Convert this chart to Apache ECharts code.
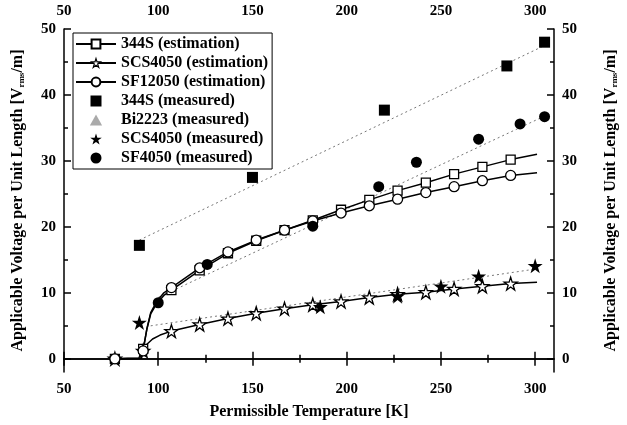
<!DOCTYPE html>
<html><head><meta charset="utf-8">
<script src="https://cdn.jsdelivr.net/npm/echarts@6/dist/echarts.min.js"></script>
<style>html,body{margin:0;padding:0;background:#fff}#c{width:627px;height:425px}</style>
</head><body><div id="c"></div>
<script>
// ---- tick values ----
const xTicks = [50, 100, 150, 200, 250, 300];
const xMinorTicks = [75, 125, 175, 225, 275];
const yTicks = [0, 10, 20, 30, 40, 50];
const yMinorTicks = [5, 15, 25, 35, 45];

// ---- estimation curves (marker points) ----
const estT = [77, 92, 107, 122, 137, 152, 167, 182, 197, 212, 227, 242, 257, 272, 287];
const est344S = [0, 1.5, 10.4, 13.4, 16.0, 17.9, 19.5, 21.0, 22.6, 24.1, 25.5, 26.7, 28.0, 29.1, 30.2];
const estSCS4050 = [0, 1.2, 4.2, 5.2, 6.1, 6.9, 7.6, 8.2, 8.7, 9.3, 9.8, 10.1, 10.6, 11.0, 11.4];
const estSF12050 = [0, 1.2, 10.8, 13.8, 16.2, 18.0, 19.5, 20.9, 22.1, 23.2, 24.2, 25.2, 26.1, 27.0, 27.8];

// ---- estimation curves (line-only points, no marker) ----
const curveT344S = [91, 94, 96, 99, 103, 301];
const curve344S = [0.1, 4.5, 6.8, 8.3, 9.6, 31.0];
const curveTSCS4050 = [91, 94, 97, 101, 301];
const curveSCS4050 = [0.1, 2.2, 3.0, 3.6, 11.6];
const curveTSF12050 = [91, 94, 96, 99, 103, 301];
const curveSF12050 = [0.1, 4.6, 7.0, 8.6, 10.0, 28.2];

// ---- measured ----
const meas344S_T = [90, 150, 220, 285, 305];
const meas344S_V = [17.2, 27.5, 37.7, 44.4, 48.0];
const measBi2223_T = [];
const measBi2223_V = [];
const measSCS4050_T = [90, 186, 227, 250, 270, 300];
const measSCS4050_V = [5.5, 7.9, 9.5, 11.0, 12.5, 14.1];
const measSF4050_T = [100, 126, 182, 217, 237, 270, 292, 305];
const measSF4050_V = [8.5, 14.3, 20.1, 26.1, 29.8, 33.3, 35.6, 36.7];

// ---- fit lines (dotted) ----
const fit344S_T = [90, 305];
const fit344S_V = [18.0, 47.5];
const fitSF4050_T = [100, 305];
const fitSF4050_V = [9.3, 36.8];
const fitSCS4050_T = [96, 300];
const fitSCS4050_V = [5.0, 13.6];

const FONT = "'Liberation Serif','DejaVu Serif',serif";
const STAR = 'path://M50,0 L61.2,34.5 L97.6,34.5 L68.2,55.9 L79.4,90.5 L50,69.1 L20.6,90.5 L31.8,55.9 L2.4,34.5 L38.8,34.5 Z';
const SQUARE = 'path://M0,0 H10 V10 H0 Z';
const TRI = 'path://M5,0 L10,9 L0,9 Z';

function pairs(xs, ys) { return xs.map((x, i) => [x, ys[i]]); }
function curve(tm, vm, tc, vc) {
  const pts = tm.map((t, i) => ({ value: [t, vm[i]] }))
    .concat(tc.map((t, i) => ({ value: [t, vc[i]], symbol: 'none' })));
  pts.sort((a, b) => a.value[0] - b.value[0]);
  return pts;
}

const lblStyle = { color: '#000', fontFamily: FONT, fontWeight: 'bold', fontSize: 15 };

function xAx(pos, major) {
  return {
    type: 'value', position: pos, min: 50, max: 310,
    axisLine: { show: major, lineStyle: { color: '#000', width: 1.5 } },
    axisTick: { show: true, inside: true, length: major ? 7 : 4, customValues: major ? xTicks : xMinorTicks, lineStyle: { color: '#000', width: 1.5 } },
    axisLabel: major ? Object.assign({ show: true, customValues: xTicks, margin: 10 }, lblStyle) : { show: false },
    splitLine: { show: false }
  };
}
function yAx(pos, major) {
  return {
    type: 'value', position: pos, min: -2, max: 50,
    axisLine: { show: major, lineStyle: { color: '#000', width: 1.5 } },
    axisTick: { show: true, inside: true, length: major ? 7 : 4, customValues: major ? yTicks : yMinorTicks, lineStyle: { color: '#000', width: 1.5 } },
    axisLabel: major ? Object.assign({ show: true, customValues: yTicks, margin: 8 }, lblStyle) : { show: false },
    splitLine: { show: false }
  };
}

const xBottom = xAx('bottom', true);
xBottom.name = 'Permissible Temperature [K]';
xBottom.nameLocation = 'middle';
xBottom.nameGap = 32;
xBottom.nameTextStyle = { color: '#000', fontFamily: FONT, fontWeight: 'bold', fontSize: 16 };

const yName = '{a|Applicable Voltage per Unit Length [V}{s|rms}{a|/m]}';
const yRich = {
  a: { color: '#000', fontFamily: FONT, fontWeight: 'bold', fontSize: 16 },
  s: { color: '#000', fontFamily: FONT, fontWeight: 'bold', fontSize: 9, padding: [8, 0, 0, 0] }
};
const yLeft = yAx('left', true);
yLeft.name = yName; yLeft.nameLocation = 'middle'; yLeft.nameGap = 38;
yLeft.nameTextStyle = { rich: yRich };
const yRight = yAx('right', true);
yRight.name = yName; yRight.nameLocation = 'middle'; yRight.nameGap = 48;
yRight.nameTextStyle = { rich: yRich };

const openStyle = { color: '#fff', borderColor: '#000', borderWidth: 1.3, opacity: 1 };
const estLine = { color: '#000', width: 1.5 };

const option = {
  backgroundColor: '#fff',
  animation: false,
  grid: { left: 64, right: 61, top: 29, bottom: 52, containLabel: false },
  legend: {
    orient: 'vertical', left: 73, top: 33,
    itemWidth: 40, itemHeight: 11, itemGap: 3,
    padding: [3, 4, 3, 2],
    borderColor: '#000', borderWidth: 1, backgroundColor: '#fff',
    selectedMode: false,
    textStyle: { color: '#000', fontFamily: FONT, fontWeight: 'bold', fontSize: 16 },
    data: [
      { name: '344S (estimation)' },
      { name: 'SCS4050 (estimation)', itemStyle: { color: '#fff', borderColor: '#000', borderWidth: 1.2 } },
      { name: 'SF12050 (estimation)' },
      { name: '344S (measured)', icon: SQUARE },
      { name: 'Bi2223 (measured)', icon: TRI },
      { name: 'SCS4050 (measured)', icon: STAR },
      { name: 'SF4050 (measured)', icon: 'circle' }
    ]
  },
  xAxis: [xBottom, xAx('top', true), xAx('bottom', false), xAx('top', false)],
  yAxis: [yLeft, yRight, yAx('left', false), yAx('right', false)],
  series: [
    { name: 'fit344S', type: 'line', data: pairs(fit344S_T, fit344S_V), symbol: 'none', silent: true,
      lineStyle: { color: '#777', width: 1, type: [2, 3] }, z: 1 },
    { name: 'fitSF4050', type: 'line', data: pairs(fitSF4050_T, fitSF4050_V), symbol: 'none', silent: true,
      lineStyle: { color: '#777', width: 1, type: [2, 3] }, z: 1 },
    { name: 'fitSCS4050', type: 'line', data: pairs(fitSCS4050_T, fitSCS4050_V), symbol: 'none', silent: true,
      lineStyle: { color: '#777', width: 1, type: [2, 3] }, z: 1 },
    { name: '344S (estimation)', type: 'line', data: curve(estT, est344S, curveT344S, curve344S),
      symbol: 'rect', symbolSize: 9, showAllSymbol: true, lineStyle: estLine, itemStyle: openStyle, z: 3 },
    { name: 'SCS4050 (estimation)', type: 'line', data: curve(estT, estSCS4050, curveTSCS4050, curveSCS4050),
      symbol: STAR, symbolSize: 13, showAllSymbol: true, lineStyle: estLine, itemStyle: openStyle, z: 3 },
    { name: 'SF12050 (estimation)', type: 'line', data: curve(estT, estSF12050, curveTSF12050, curveSF12050),
      symbol: 'circle', symbolSize: 10, showAllSymbol: true, lineStyle: estLine, itemStyle: openStyle, z: 3 },
    { name: '344S (measured)', type: 'scatter', data: pairs(meas344S_T, meas344S_V),
      symbol: 'rect', symbolSize: 11, itemStyle: { color: '#000', opacity: 1 }, z: 4 },
    { name: 'Bi2223 (measured)', type: 'scatter', data: pairs(measBi2223_T, measBi2223_V),
      symbol: 'triangle', symbolSize: 11, itemStyle: { color: '#aaa', opacity: 1 }, z: 4 },
    { name: 'SCS4050 (measured)', type: 'scatter', data: pairs(measSCS4050_T, measSCS4050_V),
      symbol: STAR, symbolSize: 15, itemStyle: { color: '#000', opacity: 1 }, z: 4 },
    { name: 'SF4050 (measured)', type: 'scatter', data: pairs(measSF4050_T, measSF4050_V),
      symbol: 'circle', symbolSize: 11, itemStyle: { color: '#000', opacity: 1 }, z: 4 }
  ]
};
const chart = echarts.init(document.getElementById('c'), null, { renderer: 'canvas' });
chart.setOption(option);
</script></body></html>
